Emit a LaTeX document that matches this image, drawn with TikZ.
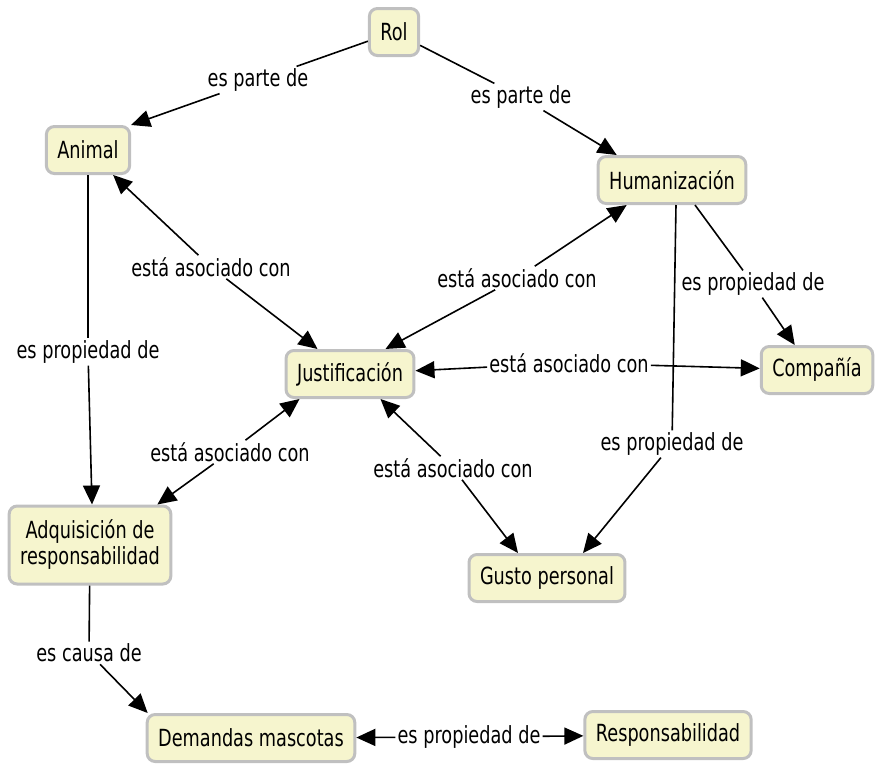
\documentclass[tikz,border=0pt]{standalone}
\usepackage{fontspec}
\setmainfont[FakeStretch=0.75]{DejaVu Sans}
\usetikzlibrary{arrows.meta}
\definecolor{cfill}{RGB}{246,245,206}
\definecolor{cborder}{RGB}{192,192,192}
\tikzset{bigtip/.tip={Triangle[length=19pt,width=17pt]}}
\begin{document}
\begin{tikzpicture}[x=1pt,y=-1pt,
  concept/.style={draw=cborder, line width=3pt, fill=cfill, rounded corners=8pt,
    inner xsep=11pt, inner ysep=4pt, minimum height=47pt, align=center,
    font=\fontsize{23.6}{26}\selectfont},
  link/.style={fill=white, inner sep=2pt, font=\fontsize{23.6}{25}\selectfont},
  conn/.style={line width=1.6pt},
  arr/.style={conn, -bigtip},
  rarr/.style={conn, bigtip-}]
\useasboundingbox (0,0) rectangle (876,764);
% concepts
\node[concept] (rol) at (394,32) {Rol};
\node[concept] (animal) at (88,150) {Animal};
\node[concept] (hum) at (672,180) {Humanización};
\node[concept] (just) at (350,374) {Justificación};
\node[concept] (comp) at (817,370) {Compañía};
\node[concept, minimum height=78pt] (adq) at (90,545) {Adquisición de\\responsabilidad};
\node[concept] (gusto) at (547,578) {Gusto personal};
\node[concept] (dem) at (251,738) {Demandas mascotas};
\node[concept] (resp) at (668,735) {Responsabilidad};
% linking phrases
\node[link] (l1) at (258,80) {es parte de};
\node[link] (l2) at (521,97) {es parte de};
\node[link] (l3) at (211,267) {está asociado con};
\node[link] (l4) at (517,278) {está asociado con};
\node[link] (l5) at (569,363) {está asociado con};
\node[link] (l6) at (753,284) {es propiedad de};
\node[link] (l7) at (672,444) {es propiedad de};
\node[link] (l8) at (88,352) {es propiedad de};
\node[link] (l9) at (230,452) {está asociado con};
\node[link] (l10) at (453,468) {está asociado con};
\node[link] (l11) at (89,653) {es causa de};
\node[link] (l12) at (469,737) {es propiedad de};
% connectors
\draw[conn] (rol) -- (l1);
\draw[arr] (l1) -- (animal.north east);
\draw[conn] (rol) -- (l2);
\draw[arr] (l2) -- ([xshift=20pt]hum.north west);
\draw[rarr] ([xshift=-18pt]animal.south east) -- (l3);
\draw[arr] (l3) -- ([xshift=33pt]just.north west);
\draw[rarr] ([xshift=30pt]hum.south west) -- (l4);
\draw[arr] (l4) -- ([xshift=-30pt]just.north east);
\draw[rarr] (just) -- (l5);
\draw[arr] (l5) -- (comp);
\draw[conn] ([xshift=23pt]hum.south) -- (l6);
\draw[arr] (l6) -- ([xshift=35pt]comp.north west);
\draw[conn] ([xshift=4pt]hum.south) -- (l7);
\draw[arr] (l7) -- ([xshift=36pt]gusto.north);
\draw[conn] (animal) -- (l8);
\draw[arr] (l8) -- ([xshift=2pt]adq.north);
\draw[rarr] ([xshift=15pt]just.south west) -- (l9);
\draw[arr] (l9) -- ([xshift=-15pt]adq.north east);
\draw[rarr] ([xshift=-35pt]just.south east) -- (l10);
\draw[arr] (l10) -- ([xshift=-29pt]gusto.north);
\draw[conn] (adq) -- (l11);
\draw[arr] (l11) -- ([xshift=2pt]dem.north west);
\draw[rarr] (dem) -- (l12);
\draw[arr] (l12) -- (resp);
\end{tikzpicture}
\end{document}
